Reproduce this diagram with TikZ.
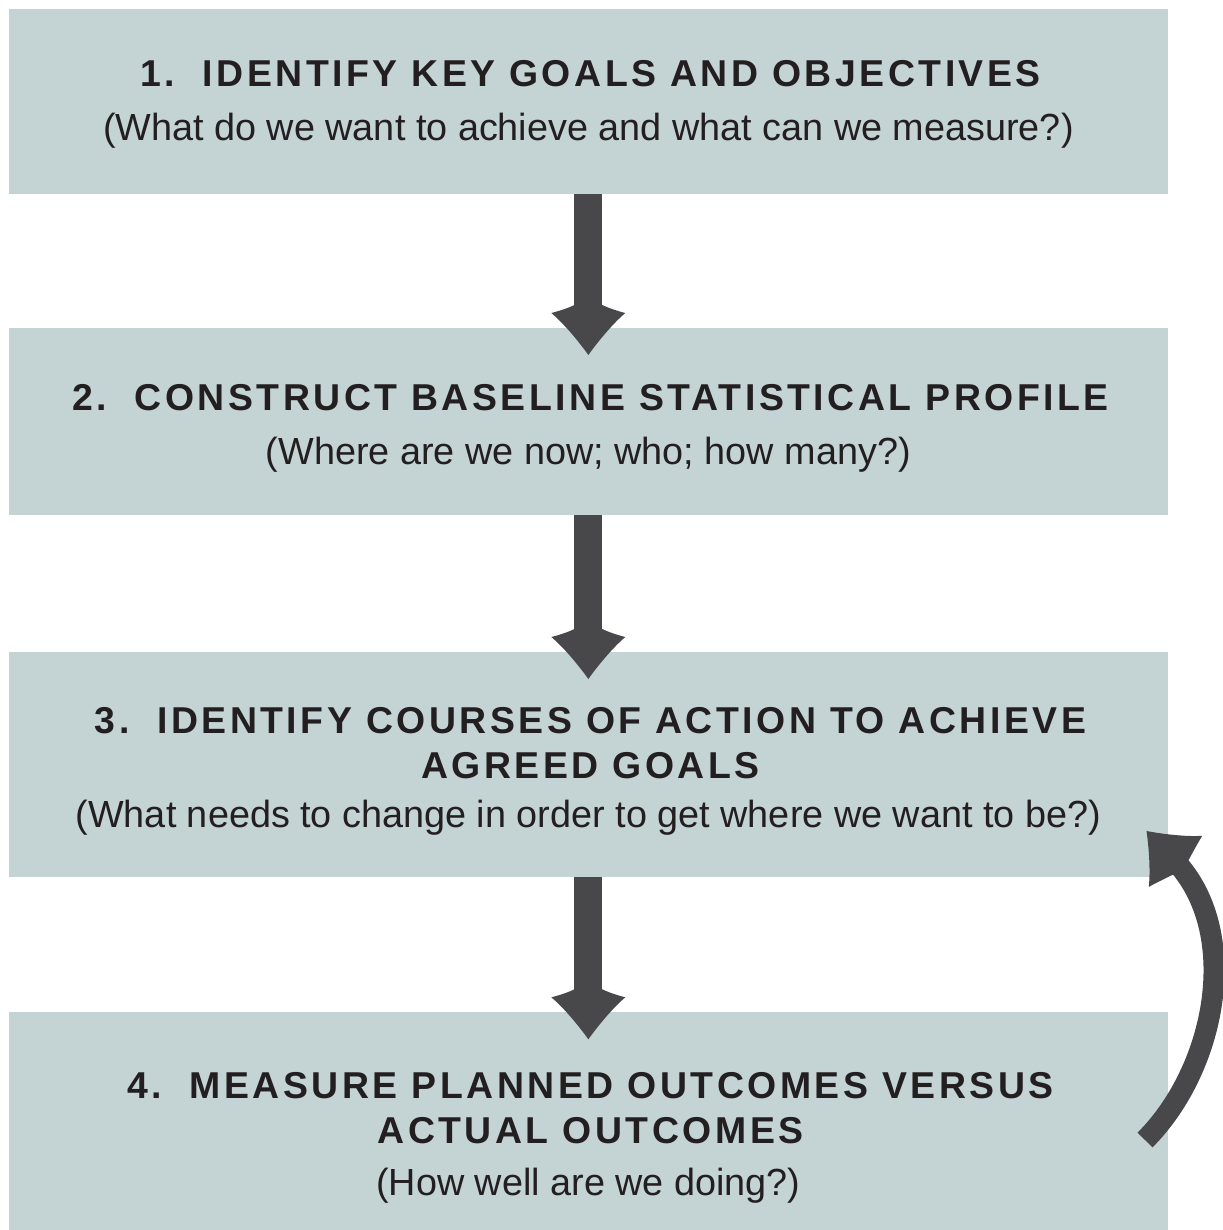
\documentclass[tikz,border=0pt]{standalone}
\usepackage{fontspec}
\setmainfont{Liberation Sans}
\newfontfamily\titlefont{Liberation Sans}[LetterSpace=9.4]
\usetikzlibrary{calc}
\definecolor{boxc}{RGB}{196,211,212}
\definecolor{arrowc}{RGB}{72,72,74}
\definecolor{textc}{RGB}{35,31,32}
\def\hj{14}
\tikzset{
  box/.style={rectangle, fill=boxc, draw=none, inner sep=0pt, outer sep=0pt, minimum width=1158.7pt},
  ttl/.style={text=textc, inner sep=0pt, anchor=base, font=\titlefont\bfseries\fontsize{37.4}{44}\selectfont},
  sub/.style={text=textc, inner sep=0pt, anchor=base, font=\fontsize{37.8}{46}\selectfont},
  shaft/.style={fill=arrowc},
  ahead/.pic={
    \fill[arrowc] (0,0) .. controls (-10,-14) and (-25,-32) .. (-37,-42)
      .. controls (-29,-44) and (-20,-47) .. (-\hj,-50) -- (\hj,-50)
      .. controls (20,-47) and (29,-44) .. (37,-42)
      .. controls (25,-32) and (10,-14) .. (0,0) -- cycle;
  }
}
\begin{document}
\begin{tikzpicture}[x=1pt,y=-1pt]
\useasboundingbox (0,0) rectangle (1222,1230);
\fill[white] (0,0) rectangle (1222,1230);
% boxes
\node[box, minimum height=185pt] (b1) at (588.35,101.5) {};
\node[box, minimum height=187pt] (b2) at (588.35,421.5) {};
\node[box, minimum height=224.7pt] (b3) at (588.35,764.35) {};
\node[box, minimum height=219.7pt] (b4) at (588.35,1122.15) {};
% texts
\node[ttl] (t1) at (590.5,87) {1.\ \ IDENTIFY KEY GOALS AND OBJECTIVES};
\node[sub] (s1) at (588.4,141) {(What do we want to achieve and what can we measure?)};
\node[ttl] (t2) at (590.5,410) {2.\ \ CONSTRUCT BASELINE STATISTICAL PROFILE};
\node[sub] (s2) at (588.4,464) {(Where are we now; who; how many?)};
\node[ttl] (t3a) at (590.5,733) {3.\ \ IDENTIFY COURSES OF ACTION TO ACHIEVE};
\node[ttl] (t3b) at (590.5,778) {AGREED GOALS};
\node[sub] (s3) at (588.4,827) {(What needs to change in order to get where we want to be?)};
\node[ttl] (t4a) at (590.5,1098) {4.\ \ MEASURE PLANNED OUTCOMES VERSUS};
\node[ttl] (t4b) at (590.5,1143) {ACTUAL OUTCOMES};
\node[sub] (s4) at (588.4,1195) {(How well are we doing?)};
% straight arrows
\foreach \a/\b in {b1/b2, b2/b3, b3/b4}{
  \fill[shaft] ($(\a.south)+(-14,0)$) rectangle ($(\b.north)+(14,-22)$);
  \pic at ($(\b.north)+(0,27)$) {ahead};
}
% curved feedback arrow
\coordinate (cs) at ($(b4.east)+(-22.7,17.85)$);
\coordinate (ctip) at ($(b3.south east)+(-21.2,-45.7)$);
\coordinate (cend) at ($(ctip)+(27.6,28.9)$);
\draw[arrowc, line width=21pt] (cs) .. controls ($(cs)+(70.7,-70.7)$) and ($(cend)+(69,72.3)$) .. (cend);
\def\hj{10.5}
\pic[rotate=-136.3] at (ctip) {ahead};
\end{tikzpicture}
\end{document}
